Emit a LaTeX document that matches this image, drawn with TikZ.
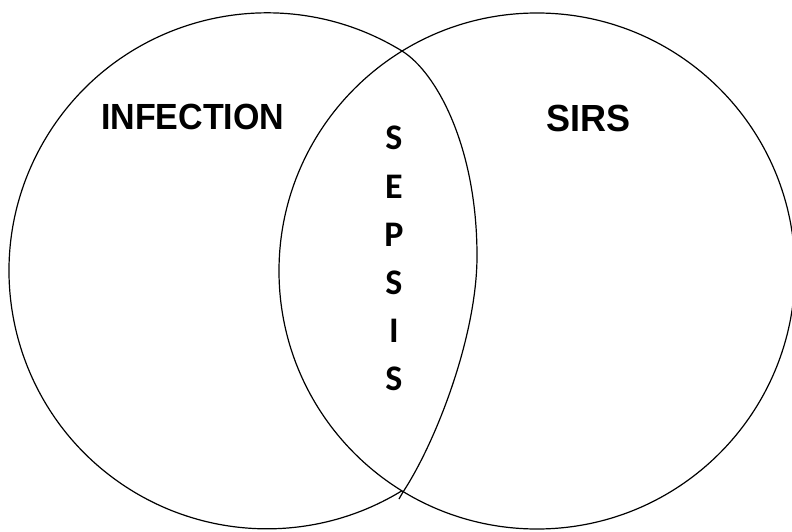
\documentclass[tikz,border=0pt]{standalone}
\usepackage{fontspec}
\setmainfont{Liberation Sans}
\newfontfamily\lettersfont{Carlito}
\begin{document}
\begin{tikzpicture}[x=1pt,y=1pt,
  outline/.style={draw=black,line width=1.2pt},
  setlabel/.style={font=\bfseries\fontsize{34}{40}\selectfont,anchor=base west,inner sep=0pt},
  letter/.style={font=\lettersfont\bfseries\fontsize{36}{40}\selectfont,anchor=base,inner sep=0pt}]
  \useasboundingbox (0,0) rectangle (792,531);
  \fill[white] (0,0) rectangle (792,531);

  % centres of the two sets
  \coordinate (cl) at (267,260);
  \coordinate (cr) at (537,260);
  % where the flattened side meets the circle, and its widest point
  \coordinate (top) at (402,480);
  \coordinate (bot) at (403,39);
  \coordinate (mid) at (477,275);
  \coordinate (tail) at (399,32);

  % SIRS: full circle
  \draw[outline] (cr) circle[radius=258];

  % INFECTION: circle whose right-hand side is flattened inside the overlap
  \draw[outline] (top) arc[start angle=58.45,end angle=301.55,radius=258];
  \draw[outline] (top) .. controls (436,459) and (477,385) .. (mid)
                       .. controls (477,195) and (436,89) .. (bot) -- (tail);

  % labels
  \node[setlabel,yscale=1.07] (inf) at (101,401) {INFECTION};
  \node[setlabel,font=\bfseries\fontsize{36}{40}\selectfont,yscale=1.05] (sirs) at (546,399) {SIRS};

  \foreach \ch [count=\i from 0] in {S,E,P,S,I,S}
    \node[letter] (sep\i) at (394,381-48*\i) {\ch};
\end{tikzpicture}
\end{document}
